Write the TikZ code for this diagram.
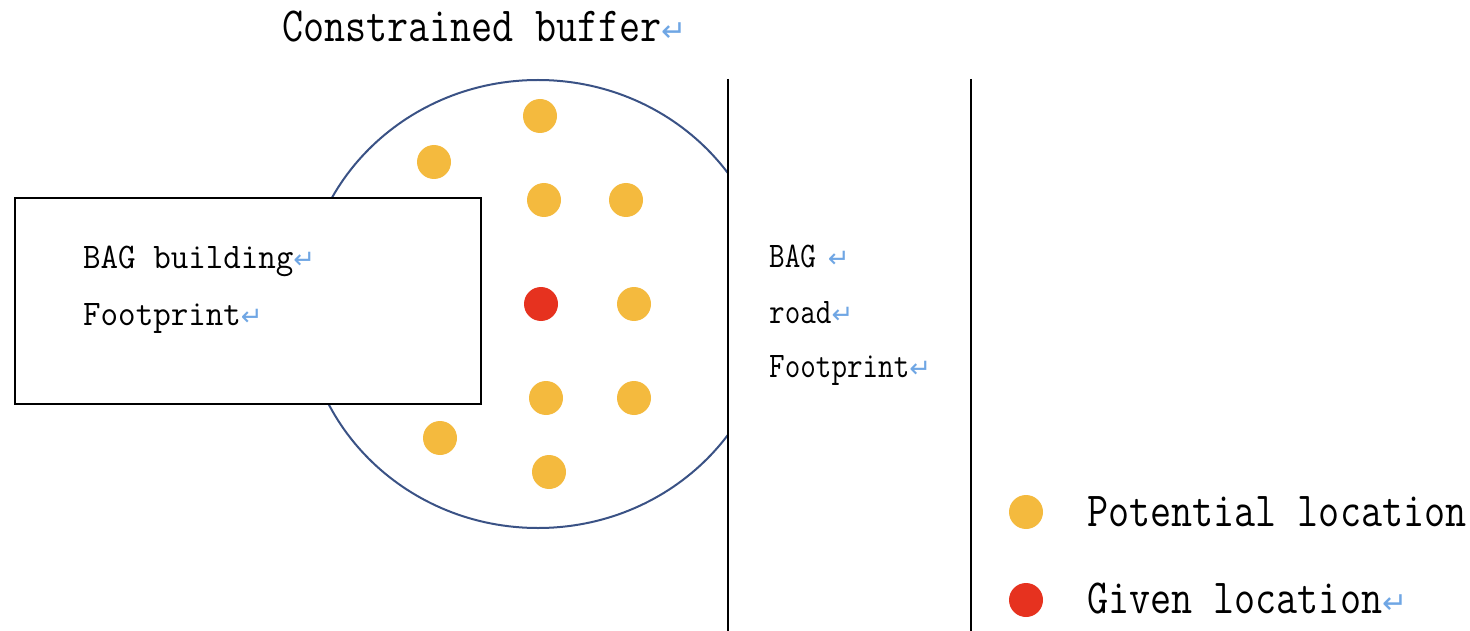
\documentclass[tikz,border=0pt]{standalone}
\usepackage{fontspec}
\usepackage{graphicx}
\newfontfamily\djv{DejaVu Sans}
\definecolor{dotyellow}{HTML}{F4BA3E}
\definecolor{dotred}{HTML}{E6321F}
\definecolor{bufblue}{HTML}{3A5285}
\definecolor{retblue}{HTML}{6FA6E4}
\newcommand{\retmark}{{\color{retblue}\djv\fontsize{30}{30}\selectfont ↵}}
\newcommand{\smallret}{{\color{retblue}\djv\fontsize{26}{26}\selectfont ↵}}
\newcommand{\bigtxt}[1]{\scalebox{0.835}[1]{\ttfamily\fontsize{49}{49}\selectfont #1}}
\newcommand{\boxtxt}[1]{\scalebox{0.945}[1]{\ttfamily\fontsize{36}{36}\selectfont #1}}
\newcommand{\roadtxt}[1]{\scalebox{0.84}[1]{\ttfamily\fontsize{36}{36}\selectfont #1}}
\begin{document}
\begin{tikzpicture}[x=1pt,y=-1pt,
  potdot/.style={circle,fill=dotyellow,inner sep=0pt,minimum size=34pt},
  givdot/.style={circle,fill=dotred,inner sep=0pt,minimum size=34pt},
  lbl/.style={anchor=base west,inner sep=0pt},
  blackline/.style={draw=black,line width=2.4pt},
  bagbox/.style={draw=black,line width=2.2pt,fill=white,minimum width=466pt,minimum height=206pt,inner sep=0pt}]
\useasboundingbox (0,0) rectangle (1470,631);
\clip (0,0) rectangle (1470,631);
% buffer
\draw[bufblue,line width=2pt] (538,304) ellipse [x radius=234, y radius=224];
% road area
\fill[white] (729,70) rectangle (970,640);
\coordinate (r1t) at (728,79); \coordinate (r1b) at (728,640);
\coordinate (r2t) at (971,79); \coordinate (r2b) at (971,640);
\draw[blackline] (r1t) -- (r1b);
\draw[blackline] (r2t) -- (r2b);
% building box
\node[bagbox] (bag) at (248,301) {};
% dots
\node[potdot] (p1) at (540,116) {};
\node[potdot] (p2) at (434,162) {};
\node[potdot] (p3) at (544,200) {};
\node[potdot] (p4) at (626,200) {};
\node[givdot] (g1) at (541,304) {};
\node[potdot] (p5) at (634,304) {};
\node[potdot] (p6) at (546,398) {};
\node[potdot] (p7) at (634,398) {};
\node[potdot] (p8) at (440,438) {};
\node[potdot] (p9) at (549,472) {};
% texts
\node[lbl] (title) at (282,42) {\bigtxt{Constrained buffer}\retmark};
\node[lbl] (bt1) at (83,269) {\boxtxt{BAG building}\smallret};
\node[lbl] (bt2) at (83,325) {\boxtxt{Footprint}\smallret};
\node[lbl] (rt1) at (769,268) {\roadtxt{BAG}\hspace{12pt}\smallret};
\node[lbl] (rt2) at (769,323) {\roadtxt{road}\smallret};
\node[lbl] (rt3) at (769,377) {\roadtxt{Footprint}\smallret};
% legend
\node[potdot] (lp) at (1026,512) {};
\node[givdot] (lg) at (1026,600) {};
\node[lbl] (lpt) at (1087,526) {\bigtxt{Potential location}};
\node[lbl] (lgt) at (1087,613) {\bigtxt{Given location}\retmark};
\end{tikzpicture}
\end{document}
